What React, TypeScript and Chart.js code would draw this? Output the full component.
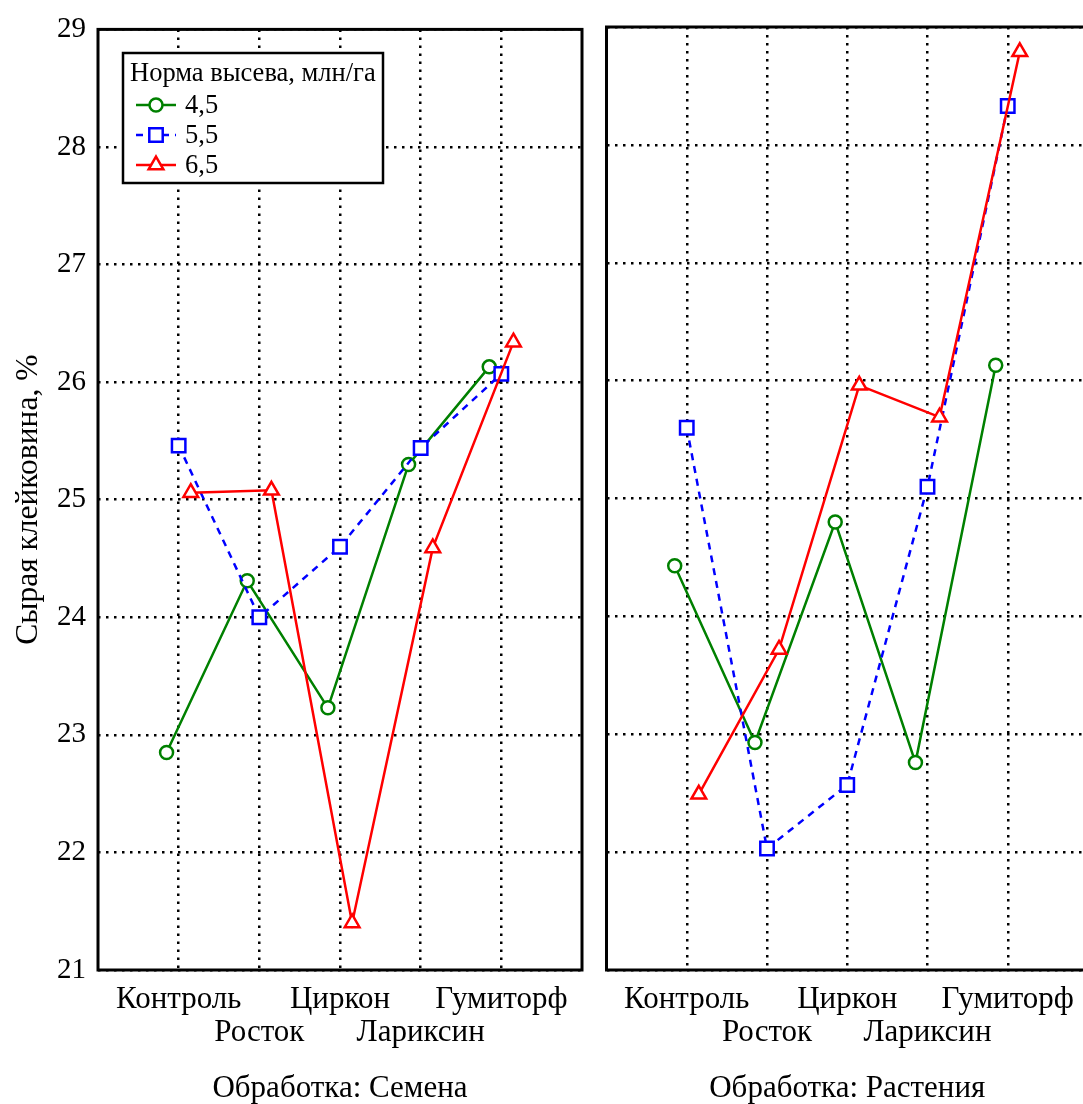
import React, { useEffect, useRef } from 'react';
import { Chart, registerables } from 'chart.js';

Chart.register(...registerables);

// ---------------- data ----------------
const treatments = ['Контроль', 'Росток', 'Циркон', 'Лариксин', 'Гумиторф'];
const seedRates = ['4,5', '5,5', '6,5'];

// Обработка: Семена
const seedsRate45 = [22.85, 24.31, 23.23, 25.30, 26.13];
const seedsRate55 = [25.46, 24.00, 24.60, 25.44, 26.07];
const seedsRate65 = [25.06, 25.08, 21.40, 24.59, 26.34];

// Обработка: Растения
const plantsRate45 = [24.43, 22.93, 24.80, 22.76, 26.13];
const plantsRate55 = [25.60, 22.03, 22.57, 25.10, 28.33];
const plantsRate65 = [22.49, 23.72, 25.96, 25.69, 28.79];

const yMin = 21;
const yMax = 29;
const yStep = 1;

const panelTitles = ['Обработка: Семена', 'Обработка: Растения'];
const yAxisTitle = 'Сырая клейковина, %';
const legendTitle = 'Норма высева, млн/га';

// ---------------- styles ----------------
const FONT = '"Liberation Serif", "Times New Roman", serif';
const seriesStyles = [
  { color: '#008000', pointStyle: 'circle', radius: 6.5, dash: [] as number[], order: 2 },
  { color: '#0000ff', pointStyle: 'rect', radius: 9.5, dash: [7, 6], order: 1 },
  { color: '#ff0000', pointStyle: 'triangle', radius: 8.5, dash: [] as number[], order: 0 },
];
const xOffsets = [-0.15, 0, 0.15];

Chart.defaults.font.family = FONT;
Chart.defaults.color = '#000';

function makeDatasets(series: number[][]) {
  return series.map((vals, s) => {
    const st = seriesStyles[s];
    return {
      label: seedRates[s],
      data: vals.map((v, i) => ({ x: i + 1 + xOffsets[s], y: v })),
      borderColor: st.color,
      borderWidth: 2.5,
      borderDash: st.dash,
      pointStyle: st.pointStyle,
      pointRadius: st.radius,
      pointBorderWidth: 2.5,
      pointBorderColor: st.color,
      pointBackgroundColor: '#ffffff',
      backgroundColor: '#ffffff',
      tension: 0,
      fill: false,
      order: st.order,
    };
  });
}

const framePlugin = {
  id: 'frame',
  afterDatasetsDraw(chart: any) {
    const { ctx, chartArea } = chart;
    ctx.save();
    ctx.strokeStyle = '#000';
    ctx.lineWidth = 3;
    ctx.strokeRect(chartArea.left, chartArea.top, chartArea.right - chartArea.left, chartArea.bottom - chartArea.top);
    ctx.restore();
  },
};

function drawMarker(ctx: CanvasRenderingContext2D, style: string, x: number, y: number, r: number) {
  ctx.beginPath();
  if (style === 'circle') {
    ctx.arc(x, y, r, 0, Math.PI * 2);
  } else if (style === 'rect') {
    const s = Math.SQRT1_2 * r;
    ctx.rect(x - s, y - s, 2 * s, 2 * s);
  } else {
    for (let k = 0; k < 3; k++) {
      const a = (k * 2 * Math.PI) / 3;
      const px = x + Math.sin(a) * r;
      const py = y - Math.cos(a) * r;
      if (k === 0) ctx.moveTo(px, py);
      else ctx.lineTo(px, py);
    }
    ctx.closePath();
  }
  ctx.fill();
  ctx.stroke();
}

const legendPlugin = {
  id: 'customLegend',
  afterDraw(chart: any) {
    const { ctx } = chart;
    const bx = 123, by = 53, bw = 260, bh = 130;
    ctx.save();
    ctx.fillStyle = '#fff';
    ctx.fillRect(bx, by, bw, bh);
    ctx.strokeStyle = '#000';
    ctx.lineWidth = 2.5;
    ctx.strokeRect(bx, by, bw, bh);
    ctx.fillStyle = '#000';
    ctx.font = `26.5px ${FONT}`;
    ctx.textBaseline = 'alphabetic';
    ctx.textAlign = 'left';
    ctx.fillText(legendTitle, 130, 81);
    seedRates.forEach((lab, s) => {
      const st = seriesStyles[s];
      const cy = 105 + s * 30;
      ctx.strokeStyle = st.color;
      ctx.lineWidth = 2.5;
      ctx.setLineDash(st.dash);
      ctx.beginPath();
      ctx.moveTo(136, cy);
      ctx.lineTo(176, cy);
      ctx.stroke();
      ctx.setLineDash([]);
      ctx.fillStyle = '#fff';
      drawMarker(ctx, st.pointStyle, 156, cy, st.radius);
      ctx.fillStyle = '#000';
      ctx.textBaseline = 'middle';
      ctx.fillText(lab, 185, cy + 1);
    });
    ctx.restore();
  },
};

function makeConfig(series: number[][], title: string, isLeft: boolean): any {
  return {
    type: 'line',
    data: { datasets: makeDatasets(series) },
    plugins: isLeft ? [framePlugin, legendPlugin] : [framePlugin],
    options: {
      responsive: false,
      animation: false,
      events: [],
      layout: { padding: { top: 27, right: isLeft ? 12 : 9.5, left: 0, bottom: 0 } },
      plugins: { legend: { display: false }, tooltip: { enabled: false } },
      scales: {
        x: {
          type: 'linear',
          min: 0,
          max: 6,
          afterBuildTicks: (scale: any) => {
            scale.ticks = treatments.map((_, i) => ({ value: i + 1 }));
          },
          afterFit: (scale: any) => {
            scale.height = 134;
          },
          grid: { color: '#000', lineWidth: 2.5, drawTicks: false },
          border: { display: false, dash: [2.5, 5.5] },
          ticks: {
            autoSkip: false,
            maxRotation: 0,
            minRotation: 0,
            padding: 13,
            color: '#000',
            font: { size: 31, lineHeight: 1.07 },
            callback: (value: number) => {
              const i = Math.round(value) - 1;
              const name = treatments[i] ?? '';
              return i % 2 === 0 ? [name, ''] : ['', name];
            },
          },
          title: {
            display: true,
            text: title,
            color: '#000',
            font: { size: 31, lineHeight: 1 },
            padding: { top: 0, bottom: 0 },
          },
        },
        y: {
          type: 'linear',
          min: yMin,
          max: yMax,
          afterFit: (scale: any) => {
            scale.width = isLeft ? 98 : 12.5;
          },
          grid: { color: '#000', lineWidth: 2.5, drawTicks: false },
          border: { display: false, dash: [2.5, 5.5] },
          ticks: {
            display: isLeft,
            stepSize: yStep,
            padding: 12,
            color: '#000',
            font: { size: 29 },
          },
          title: {
            display: isLeft,
            text: yAxisTitle,
            color: '#000',
            font: { size: 31.5, lineHeight: 1 },
            padding: { top: 13, bottom: 0 },
          },
        },
      },
    },
  };
}

export default function App() {
  const leftRef = useRef<HTMLCanvasElement>(null);
  const rightRef = useRef<HTMLCanvasElement>(null);

  useEffect(() => {
    const left = new Chart(
      leftRef.current as HTMLCanvasElement,
      makeConfig([seedsRate45, seedsRate55, seedsRate65], panelTitles[0], true)
    );
    const right = new Chart(
      rightRef.current as HTMLCanvasElement,
      makeConfig([plantsRate45, plantsRate55, plantsRate65], panelTitles[1], false)
    );
    return () => {
      left.destroy();
      right.destroy();
    };
  }, []);

  return (
    <div
      style={{
        position: 'fixed',
        left: 0,
        top: 0,
        width: 1083,
        height: 1104,
        overflow: 'hidden',
        background: '#fff',
      }}
    >
      <canvas ref={leftRef} width={594} height={1104} style={{ position: 'absolute', left: 0, top: 0 }} />
      <canvas ref={rightRef} width={506} height={1104} style={{ position: 'absolute', left: 594, top: 0 }} />
    </div>
  );
}
